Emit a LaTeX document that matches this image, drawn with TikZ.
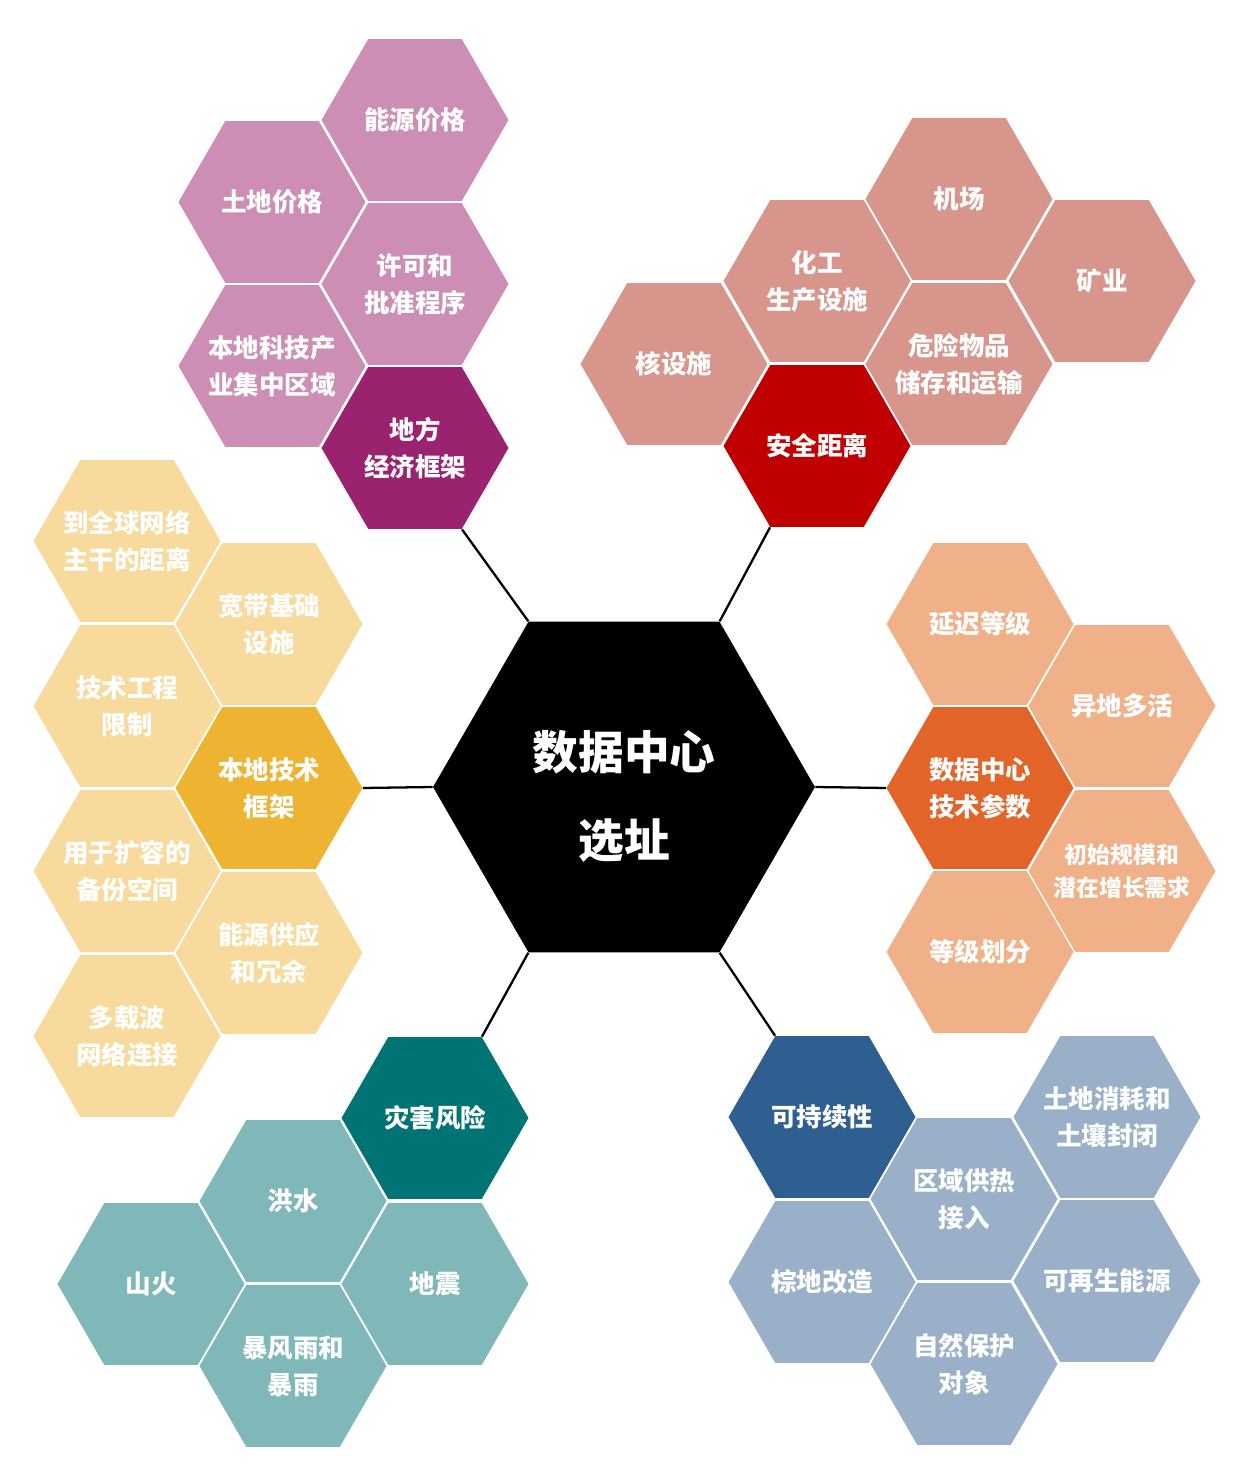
\documentclass[tikz,border=0pt]{standalone}
\usepackage{fontspec}
\newfontfamily\cjk{Noto Sans CJK SC}
\usetikzlibrary{shapes.geometric}
\definecolor{purL}{HTML}{CC8EB4}
\definecolor{purD}{HTML}{9B226F}
\definecolor{redL}{HTML}{D7958B}
\definecolor{redD}{HTML}{C00000}
\definecolor{oraL}{HTML}{F0B088}
\definecolor{oraD}{HTML}{E26428}
\definecolor{bluL}{HTML}{9AB0C9}
\definecolor{bluD}{HTML}{2F5F91}
\definecolor{teaL}{HTML}{80B8B9}
\definecolor{teaD}{HTML}{007475}
\definecolor{yelL}{HTML}{F7DA9C}
\definecolor{yelD}{HTML}{EEB330}
\begin{document}
\begin{tikzpicture}[x=0.02cm,y=-0.02cm,
	cell/.style={regular polygon, regular polygon sides=6, minimum size=3.74cm, inner sep=-16pt,
		fill=#1, text=white, align=center, font=\cjk\bfseries\fontsize{14.5}{21}\selectfont},
	core/.style={regular polygon, regular polygon sides=6, minimum size=7.64cm, inner sep=0pt,
		fill=black, text=white, align=center, font=\cjk\bfseries\fontsize{26}{50}\selectfont},
	link/.style={line width=1.3pt}]
	\useasboundingbox (0,0) rectangle (1243,1469);
	% centre
	\node[core] (site) at (624,787) {\rule{0pt}{33pt}数据中心\\选址};
	% local economy
	\node[cell=purL] (energyprice) at (415,120) {能源价格};
	\node[cell=purL] (landprice) at (272,202) {土地价格};
	\node[cell=purL] (permit) at (415,284) {许可和\\批准程序};
	\node[cell=purL] (cluster) at (272,366) {本地科技产\\业集中区域};
	\node[cell=purD] (econ) at (415,448) {地方\\经济框架};
	% safety distance
	\node[cell=redL] (airport) at (959,199) {机场};
	\node[cell=redL] (mining) at (1102,281) {矿业};
	\node[cell=redL] (chemical) at (817,281) {化工\\生产设施};
	\node[cell=redL] (hazard) at (959,364) {危险物品\\储存和运输};
	\node[cell=redL] (nuclear) at (674,364) {核设施};
	\node[cell=redD] (safety) at (817,446) {安全距离};
	% technical parameters
	\node[cell=oraL] (latency) at (980,624) {延迟等级};
	\node[cell=oraL] (activeactive) at (1122,706) {异地多活};
	\node[cell=oraD] (param) at (980,788) {数据中心\\技术参数};
	\node[cell=oraL, font=\cjk\bfseries\fontsize{13}{19}\selectfont] (growth) at (1122,871) {初始规模和\\潜在增长需求};
	\node[cell=oraL] (tier) at (980,952) {等级划分};
	% sustainability
	\node[cell=bluD] (sustain) at (822,1117) {可持续性};
	\node[cell=bluL] (landuse) at (1107,1117) {土地消耗和\\土壤封闭};
	\node[cell=bluL] (heating) at (964,1199) {区域供热\\接入};
	\node[cell=bluL] (brownfield) at (822,1282) {棕地改造};
	\node[cell=bluL] (renewable) at (1107,1281) {可再生能源};
	\node[cell=bluL] (nature) at (964,1364) {自然保护\\对象};
	% disaster risk
	\node[cell=teaD] (disaster) at (435,1118) {灾害风险};
	\node[cell=teaL] (flood) at (293,1201) {洪水};
	\node[cell=teaL] (wildfire) at (151,1284) {山火};
	\node[cell=teaL] (quake) at (435,1284) {地震};
	\node[cell=teaL] (storm) at (293,1366) {暴风雨和\\暴雨};
	% local technical framework
	\node[cell=yelL] (backbone) at (127,541) {到全球网络\\主干的距离};
	\node[cell=yelL] (broadband) at (269,624) {宽带基础\\设施};
	\node[cell=yelL] (limits) at (127,706) {技术工程\\限制};
	\node[cell=yelD] (tech) at (269,788) {本地技术\\框架};
	\node[cell=yelL] (spare) at (127,871) {用于扩容的\\备份空间};
	\node[cell=yelL] (power) at (269,953) {能源供应\\和冗余};
	\node[cell=yelL] (carrier) at (127,1036) {多载波\\网络连接};
	% connectors
	\draw[link] (site.120) -- (econ.300);
	\draw[link] (site.60) -- (safety.240);
	\draw[link] (site.180) -- (tech.0);
	\draw[link] (site.0) -- (param.180);
	\draw[link] (site.240) -- (disaster.60);
	\draw[link] (site.300) -- (sustain.120);
\end{tikzpicture}
\end{document}
